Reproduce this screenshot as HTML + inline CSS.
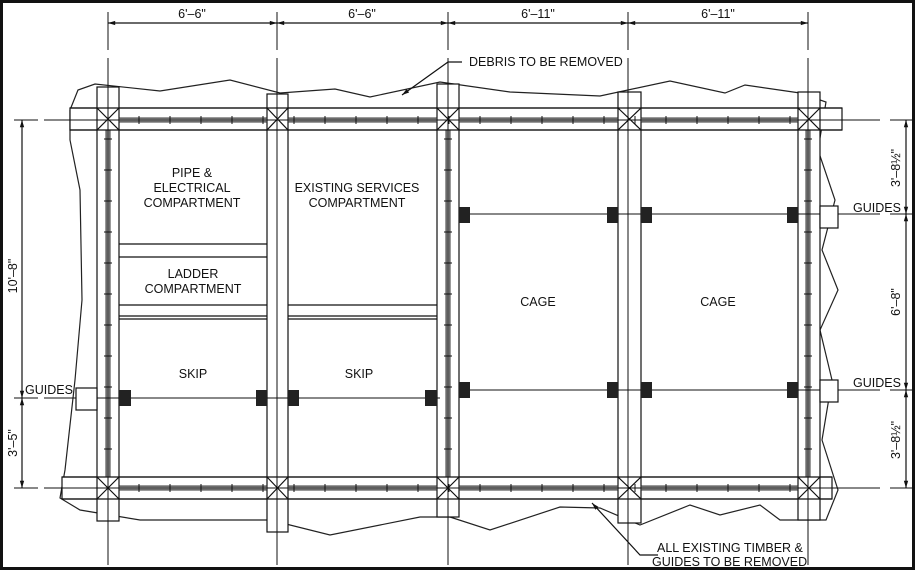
<!DOCTYPE html>
<html><head><style>
html,body{margin:0;padding:0;background:#fff;overflow:hidden;width:916px;height:571px;}
svg{display:block;}
text{font-family:"Liberation Sans",sans-serif;fill:#111;}
</style></head><body>
<svg width="916" height="571" viewBox="0 0 916 571" xmlns="http://www.w3.org/2000/svg">
<defs>
<marker id="a" viewBox="0 0 10 10" refX="10" refY="5" markerWidth="10" markerHeight="6" orient="auto-start-reverse"><path d="M0,2 L10,5 L0,8z" fill="#111"/></marker>
<pattern id="th" width="31" height="8" patternUnits="userSpaceOnUse"><line x1="15" y1="0" x2="15" y2="8" stroke="#111" stroke-width="1"/></pattern>
<pattern id="tv" width="8" height="31" patternUnits="userSpaceOnUse"><line x1="0" y1="15" x2="8" y2="15" stroke="#111" stroke-width="1"/></pattern>
</defs>
<rect x="1.5" y="1.5" width="912" height="567" fill="#fff" stroke="#111" stroke-width="3"/>
<g stroke="#222" fill="none" stroke-width="1.2">
<polyline points="70,110 78,90 95,84 160,91 230,80 280,93 335,89 370,97 440,82 510,92 600,96 670,81 725,93 745,85 800,93 826,102 818,150 835,200 822,250 838,290 820,330 832,380 822,440 838,490 826,520 780,520 760,505 720,515 690,505 640,525 600,508 560,507 490,530 450,517 420,517 330,535 270,520 140,520 80,510 60,498 65,470 75,380 82,300 80,190 70,140 70,110"/>
</g>
<g stroke="#111" stroke-width="1.2" fill="#fff">
<rect x="70" y="108" width="772" height="22"/>
<rect x="62" y="477" width="770" height="22"/>
</g>
<g fill="#fff" stroke="#111" stroke-width="1.2">
<rect x="97" y="87" width="22" height="434"/>
<rect x="267" y="94" width="21" height="438"/>
<rect x="437" y="84" width="22" height="433"/>
<rect x="618" y="92" width="23" height="431"/>
<rect x="798" y="92" width="22" height="428"/>
</g>
<g fill="#aaa" stroke="#222" stroke-width="0.9">
<rect x="119" y="118" width="148" height="4"/><rect x="288" y="118" width="149" height="4"/><rect x="459" y="118" width="159" height="4"/><rect x="641" y="118" width="157" height="4"/>
<rect x="119" y="486" width="148" height="4"/><rect x="288" y="486" width="149" height="4"/><rect x="459" y="486" width="159" height="4"/><rect x="641" y="486" width="157" height="4"/>
<rect x="106" y="130" width="4" height="347"/><rect x="446" y="130" width="4" height="347"/><rect x="806" y="130" width="4" height="347"/>
</g>
<g fill="url(#th)">
<rect x="119" y="116" width="679" height="8"/><rect x="119" y="484" width="679" height="8"/>
</g>
<g fill="url(#tv)">
<rect x="104" y="130" width="8" height="347"/><rect x="444" y="130" width="8" height="347"/><rect x="804" y="130" width="8" height="347"/>
</g>
<g stroke="#111" stroke-width="1.2">
<line x1="70" y1="108" x2="842" y2="108"/><line x1="70" y1="130" x2="842" y2="130"/>
<line x1="62" y1="477" x2="832" y2="477"/><line x1="62" y1="499" x2="832" y2="499"/>
<path d="M97,108 L119,130 M119,108 L97,130 M267,108 L288,130 M288,108 L267,130 M437,108 L459,130 M459,108 L437,130 M618,108 L641,130 M641,108 L618,130 M798,108 L820,130 M820,108 L798,130"/>
<path d="M97,477 L119,499 M119,477 L97,499 M267,477 L288,499 M288,477 L267,499 M437,477 L459,499 M459,477 L437,499 M618,477 L641,499 M641,477 L618,499 M798,477 L820,499 M820,477 L798,499"/>
<path d="M119,244 H267 M119,257 H267 M119,305 H267 M119,316 H267 M119,319 H267 M288,305 H437 M288,316 H437 M288,319 H437"/>
</g>
<g stroke="#111" stroke-width="1">
<path d="M108,12 V50 M108,58 V565 M277,12 V50 M277,58 V565 M448,12 V50 M448,58 V565 M628,12 V50 M628,58 V565 M808,12 V50 M808,58 V565"/>
<path d="M14,120 H38 M44,120 H880 M890,120 H912 M14,488 H38 M44,488 H880 M890,488 H912 M14,398 H38 M44,398 H440 M459,214 H880 M890,214 H912 M459,390 H880 M890,390 H912"/>
</g>
<g fill="#222">
<rect x="119" y="390" width="12" height="16"/><rect x="256" y="390" width="11" height="16"/><rect x="288" y="390" width="11" height="16"/><rect x="425" y="390" width="12" height="16"/>
<rect x="459" y="207" width="11" height="16"/><rect x="607" y="207" width="11" height="16"/><rect x="641" y="207" width="11" height="16"/><rect x="787" y="207" width="11" height="16"/>
<rect x="459" y="382" width="11" height="16"/><rect x="607" y="382" width="11" height="16"/><rect x="641" y="382" width="11" height="16"/><rect x="787" y="382" width="11" height="16"/>
</g>
<g fill="#fff" stroke="#111" stroke-width="1.2">
<rect x="76" y="388" width="21" height="22"/>
<rect x="820" y="206" width="18" height="22"/>
<rect x="820" y="380" width="18" height="22"/>
</g>
<g stroke="#111" stroke-width="1.2" fill="none">
<line x1="108" y1="23" x2="277" y2="23" marker-start="url(#a)" marker-end="url(#a)"/>
<line x1="277" y1="23" x2="448" y2="23" marker-start="url(#a)" marker-end="url(#a)"/>
<line x1="448" y1="23" x2="628" y2="23" marker-start="url(#a)" marker-end="url(#a)"/>
<line x1="628" y1="23" x2="808" y2="23" marker-start="url(#a)" marker-end="url(#a)"/>
<line x1="22" y1="120" x2="22" y2="398" marker-start="url(#a)" marker-end="url(#a)"/>
<line x1="22" y1="398" x2="22" y2="488" marker-start="url(#a)" marker-end="url(#a)"/>
<line x1="906" y1="120" x2="906" y2="214" marker-start="url(#a)" marker-end="url(#a)"/>
<line x1="906" y1="214" x2="906" y2="390" marker-start="url(#a)" marker-end="url(#a)"/>
<line x1="906" y1="390" x2="906" y2="488" marker-start="url(#a)" marker-end="url(#a)"/>
<polyline points="462,62 448,62 402,95" marker-end="url(#a)"/>
<polyline points="658,555 640,555 592,503" marker-end="url(#a)"/>
</g>
<g font-size="12.5" text-anchor="middle">
<text x="192" y="18">6'–6"</text>
<text x="362" y="18">6'–6"</text>
<text x="538" y="18">6'–11"</text>
<text x="718" y="18">6'–11"</text>
<text x="192" y="177">PIPE &amp;</text>
<text x="192" y="192">ELECTRICAL</text>
<text x="192" y="207">COMPARTMENT</text>
<text x="357" y="192">EXISTING SERVICES</text>
<text x="357" y="207">COMPARTMENT</text>
<text x="193" y="278">LADDER</text>
<text x="193" y="293">COMPARTMENT</text>
<text x="193" y="378">SKIP</text>
<text x="359" y="378">SKIP</text>
<text x="538" y="306">CAGE</text>
<text x="718" y="306">CAGE</text>
</g>
<g font-size="12.5">
<text x="469" y="66">DEBRIS TO BE REMOVED</text>
<text x="657" y="552">ALL EXISTING TIMBER &amp;</text>
<text x="652" y="566">GUIDES TO BE REMOVED</text>
<text x="25" y="394">GUIDES</text>
<text x="853" y="212">GUIDES</text>
<text x="853" y="387">GUIDES</text>
<text transform="translate(17,276) rotate(-90)" text-anchor="middle">10'–8"</text>
<text transform="translate(17,443) rotate(-90)" text-anchor="middle">3'–5"</text>
<text transform="translate(900,168) rotate(-90)" text-anchor="middle">3'–8½"</text>
<text transform="translate(900,302) rotate(-90)" text-anchor="middle">6'–8"</text>
<text transform="translate(900,440) rotate(-90)" text-anchor="middle">3'–8½"</text>
</g>
</svg>
</body></html>
